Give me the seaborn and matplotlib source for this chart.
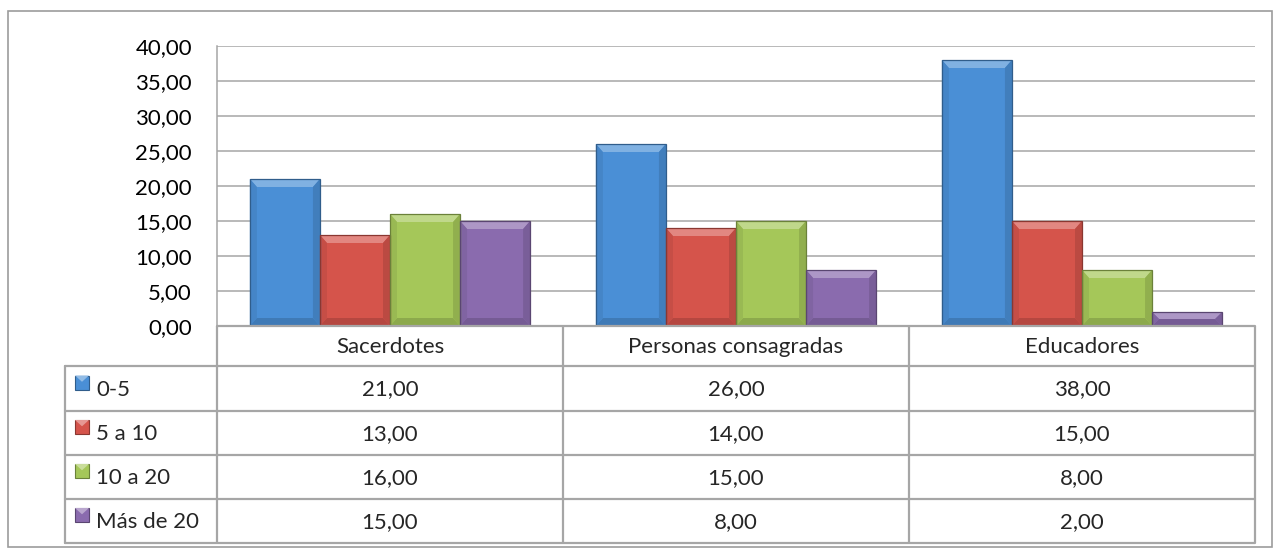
import matplotlib
matplotlib.use("Agg")
import matplotlib.pyplot as plt
import seaborn as sns
import pandas as pd
import numpy as np
from matplotlib.patches import Polygon, Rectangle
from matplotlib.colors import to_rgb

categories = ["Sacerdotes", "Personas consagradas", "Educadores"]
series = ["0-5", "5 a 10", "10 a 20", "Más de 20"]
v_0_5 = [21.0, 26.0, 38.0]
v_5_10 = [13.0, 14.0, 15.0]
v_10_20 = [16.0, 15.0, 8.0]
v_mas_20 = [15.0, 8.0, 2.0]
yticks = [0, 5, 10, 15, 20, 25, 30, 35, 40]
colors = ["#4A8FD6", "#D5544B", "#A5C759", "#8A6BAE"]

values = [v_0_5, v_5_10, v_10_20, v_mas_20]
df = pd.DataFrame({
    "cat": np.repeat([categories], len(series), axis=0).ravel(),
    "serie": np.repeat(series, len(categories)),
    "val": np.concatenate(values),
})

sns.set_style("white")
plt.rcParams["font.family"] = ["Lato", "DejaVu Sans"]
FS = 16

W, H = 1279, 549
fig = plt.figure(figsize=(W / 100, H / 100), dpi=100)

def fx(px):
    return px / W

def fy(py):
    return 1 - py / H

L, R, T, B = 217, 1255, 46, 326
ax = fig.add_axes([fx(L), fy(B), fx(R) - fx(L), fy(T) - fy(B)])
sns.barplot(data=df, x="cat", y="val", hue="serie", order=categories,
            hue_order=series, palette=colors, width=0.81, gap=0,
            saturation=1, ax=ax, legend=False, zorder=3)
ax.set_ylim(0, 40)
ax.set_xlim(-0.5, 2.5)
ax.set_yticks(yticks)
ax.set_yticklabels([f"{t:.2f}".replace(".", ",") for t in yticks], fontsize=FS)
ax.tick_params(axis="y", length=0, pad=18, colors="#000000")
ax.set_xticks([])
ax.set_xlabel("")
ax.set_ylabel("")
ax.grid(axis="y", color="#A6A6A6", linewidth=1.1, zorder=0)
for s in ["top", "right", "bottom"]:
    ax.spines[s].set_visible(False)
ax.spines["left"].set_color("#A6A6A6")
ax.spines["left"].set_linewidth(1.1)


def mix(c, other, t):
    c = np.array(to_rgb(c)); o = np.array(other)
    return tuple(c * (1 - t) + o * t)


def bevel(axx, x0, y0, w, h, col, bx, by):
    by = min(by, h / 2)
    bx = min(bx, w / 2)
    x1, y1 = x0 + w, y0 + h
    axx.add_patch(Rectangle((x0, y0), w, h, facecolor=col, edgecolor="none", zorder=4))
    top = Polygon([(x0, y1), (x1, y1), (x1 - bx, y1 - by), (x0 + bx, y1 - by)],
                  facecolor=mix(col, (1, 1, 1), 0.30), edgecolor="none", zorder=5)
    bot = Polygon([(x0, y0), (x1, y0), (x1 - bx, y0 + by), (x0 + bx, y0 + by)],
                  facecolor=mix(col, (0, 0, 0), 0.15), edgecolor="none", zorder=5)
    lft = Polygon([(x0, y0), (x0, y1), (x0 + bx, y1 - by), (x0 + bx, y0 + by)],
                  facecolor=mix(col, (0, 0, 0), 0.07), edgecolor="none", zorder=5)
    rgt = Polygon([(x1, y0), (x1, y1), (x1 - bx, y1 - by), (x1 - bx, y0 + by)],
                  facecolor=mix(col, (0, 0, 0), 0.12), edgecolor="none", zorder=5)
    for p in (top, bot, lft, rgt):
        axx.add_patch(p)
    axx.add_patch(Rectangle((x0, y0), w, h, facecolor="none",
                            edgecolor=mix(col, (0, 0, 0), 0.35), linewidth=0.9, zorder=6))


px_per_x = (R - L) / 3.0
px_per_y = (B - T) / 40.0
for patch in list(ax.patches):
    col = patch.get_facecolor()
    x0, y0 = patch.get_x(), patch.get_y()
    w, h = patch.get_width(), patch.get_height()
    if h <= 0:
        continue
    patch.set_visible(False)
    bevel(ax, x0, y0, w, h, col[:3], 7 / px_per_x, 8 / px_per_y)

ov = fig.add_axes([0, 0, 1, 1], zorder=10)
ov.set_xlim(0, W)
ov.set_ylim(H, 0)
ov.axis("off")
ov.patch.set_alpha(0)

gc = "#A6A6A6"
lw = 1.6
ov.add_patch(Rectangle((8, 11), 1264, 536, facecolor="none", edgecolor="#9C9C9C", linewidth=1.2))

col_x = [217, 563, 909, 1255]
rows_y = [366, 411, 455, 499, 543]
leg_x = 65
for x in col_x:
    ov.plot([x, x], [B, rows_y[-1]], color=gc, lw=lw, solid_capstyle="butt")
ov.plot([leg_x, leg_x], [rows_y[0], rows_y[-1]], color=gc, lw=lw)
ov.plot([L, R], [B, B], color=gc, lw=lw)
for y in rows_y:
    ov.plot([leg_x, R], [y, y], color=gc, lw=lw)

for i, c in enumerate(categories):
    cx = (col_x[i] + col_x[i + 1]) / 2
    ov.text(cx, (B + rows_y[0]) / 2 + 1, c, ha="center", va="center", fontsize=FS)

for r, (name, vals, col) in enumerate(zip(series, values, colors)):
    y0, y1 = rows_y[r], rows_y[r + 1]
    cy = (y0 + y1) / 2
    k = 14
    kx, ky = 75, cy - 13
    ov.add_patch(Rectangle((kx, ky), k, k, facecolor=col, edgecolor=mix(col, (0, 0, 0), 0.35), lw=0.8))
    ov.add_patch(Polygon([(kx, ky), (kx + k, ky), (kx + k / 2, ky + k * 0.45)],
                         facecolor=mix(col, (1, 1, 1), 0.4), edgecolor="none"))
    ov.text(96, cy + 1, name, ha="left", va="center", fontsize=FS)
    for i, v in enumerate(vals):
        cx = (col_x[i] + col_x[i + 1]) / 2
        ov.text(cx, cy + 1, f"{v:.2f}".replace(".", ","), ha="center", va="center", fontsize=FS)

fig.savefig("out.png", dpi=100)
